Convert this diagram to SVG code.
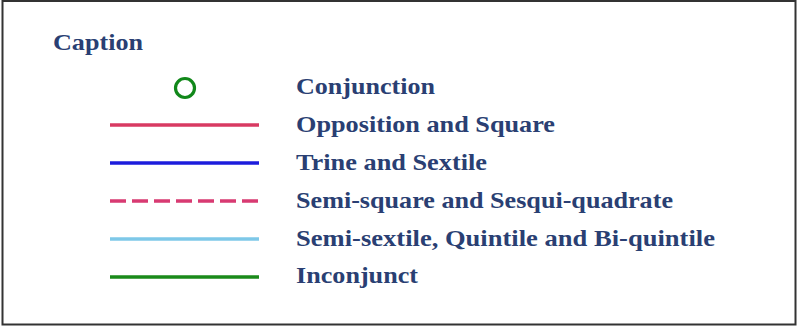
<svg xmlns="http://www.w3.org/2000/svg" width="798" height="326" viewBox="0 0 798 326">
<style>
.t{font-family:"Liberation Serif","Times New Roman",serif;font-weight:bold;font-size:23px;fill:#2a3f73}
.l{stroke-width:3.5;fill:none}
</style>
<rect x="0" y="0" width="798" height="326" fill="#ffffff"/>
<rect x="2.5" y="1" width="793" height="323.5" fill="none" stroke="#333333" stroke-width="2"/>
<text id="caption" class="t" x="53" y="50" textLength="90" lengthAdjust="spacingAndGlyphs">Caption</text>
<g id="conjunction">
<circle cx="185" cy="88" r="9.5" fill="none" stroke="#11881a" stroke-width="3.2"/>
<text class="t" x="296" y="94" textLength="139" lengthAdjust="spacingAndGlyphs">Conjunction</text>
</g>
<g id="opposition">
<line class="l" x1="110" y1="125" x2="259" y2="125" stroke="#d83a62"/>
<text class="t" x="296" y="132" textLength="259" lengthAdjust="spacingAndGlyphs">Opposition and Square</text>
</g>
<g id="trine">
<line class="l" x1="110" y1="163" x2="259" y2="163" stroke="#1c1cdc"/>
<text class="t" x="296" y="170" textLength="191" lengthAdjust="spacingAndGlyphs">Trine and Sextile</text>
</g>
<g id="semisquare">
<line class="l" x1="110" y1="201" x2="259" y2="201" stroke="#d83a72" stroke-dasharray="16 6"/>
<text class="t" x="296" y="208" textLength="377" lengthAdjust="spacingAndGlyphs">Semi-square and Sesqui-quadrate</text>
</g>
<g id="semisextile">
<line class="l" x1="110" y1="239" x2="259" y2="239" stroke="#7ec8e8"/>
<text class="t" x="296" y="246" textLength="419" lengthAdjust="spacingAndGlyphs">Semi-sextile, Quintile and Bi-quintile</text>
</g>
<g id="inconjunct">
<line class="l" x1="110" y1="277" x2="259" y2="277" stroke="#1a8a1a"/>
<text class="t" x="296" y="283" textLength="122" lengthAdjust="spacingAndGlyphs">Inconjunct</text>
</g>
</svg>
